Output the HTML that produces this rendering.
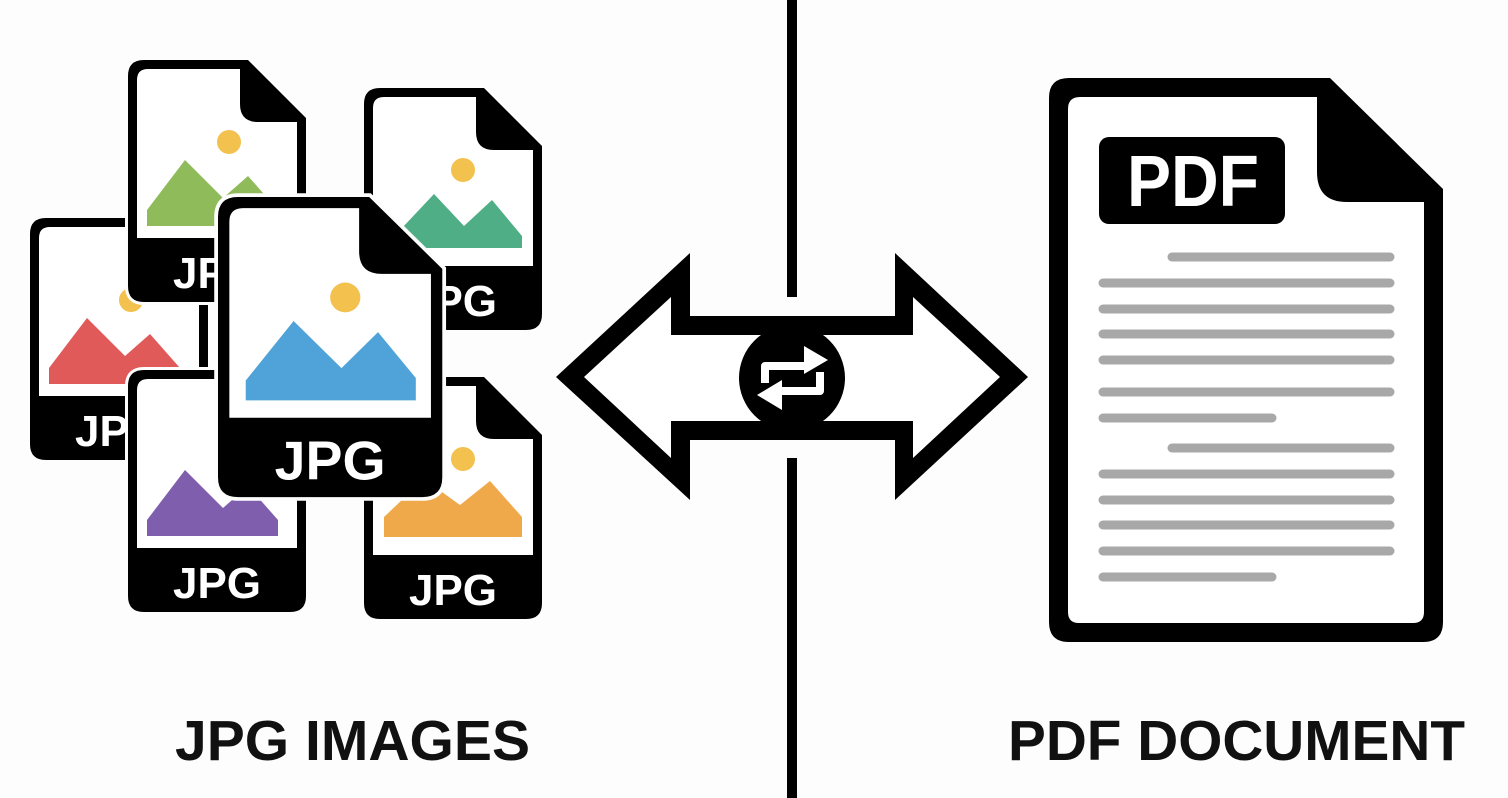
<!DOCTYPE html>
<html><head><meta charset="utf-8"><style>
html,body{margin:0;padding:0;background:#fdfdfd;}
svg{display:block;}
text{font-family:"Liberation Sans",Arial,sans-serif;font-weight:bold;}
</style></head><body>
<svg width="1508" height="798" viewBox="0 0 1508 798" xmlns="http://www.w3.org/2000/svg">
<defs>
<g id="file">
  <path d="M16,0 H120 L178,58 V226 Q178,242 162,242 H16 Q0,242 0,226 V16 Q0,0 16,0 Z" fill="#000" stroke="#fdfdfd" stroke-width="6" paint-order="stroke"/>
  <path d="M9,20 Q9,9 20,9 H112 V44 Q112,62 130,62 H169 V178 H9 Z" fill="#fff"/>
</g>
</defs>
<rect width="1508" height="798" fill="#fdfdfd"/>
<rect x="787" y="0" width="10" height="297" fill="#000"/>
<rect x="787" y="458" width="10" height="340" fill="#000"/>

<g transform="translate(30,218)">
  <use href="#file"/>
  <circle cx="101" cy="82" r="12" fill="#f2c14e"/>
  <path d="M19,166 V150 L57,100 L95,138 L120,116 L150,150 V166 Z" fill="#e05a5a"/>
  <text x="89" y="228" font-size="44" fill="#fff" text-anchor="middle">JPG</text>
</g>
<g transform="translate(128,60)">
  <use href="#file"/>
  <circle cx="101" cy="82" r="12" fill="#f2c14e"/>
  <path d="M19,166 V150 L57,100 L95,138 L120,116 L150,150 V166 Z" fill="#8fbb5a"/>
  <text x="89" y="228" font-size="44" fill="#fff" text-anchor="middle">JPG</text>
</g>
<g transform="translate(364,88)">
  <use href="#file"/>
  <circle cx="99" cy="82" r="12" fill="#f2c14e"/>
  <path d="M38,140 L70,106 L100,138 L128,112 L158,148 V160 H38 Z" fill="#4fae85"/>
  <text x="89" y="228" font-size="44" fill="#fff" text-anchor="middle">JPG</text>
</g>
<g transform="translate(128,370)">
  <use href="#file"/>
  <path d="M19,166 V150 L57,100 L95,138 L120,116 L150,150 V166 Z" fill="#7f5eae"/>
  <text x="89" y="228" font-size="44" fill="#fff" text-anchor="middle">JPG</text>
</g>
<g transform="translate(364,377)">
  <use href="#file"/>
  <circle cx="99" cy="82" r="12" fill="#f2c14e"/>
  <path d="M20,150 L20,140 L60,102 L96,128 L126,104 L158,140 V160 H20 Z" fill="#f0a94a"/>
  <text x="89" y="228" font-size="44" fill="#fff" text-anchor="middle">JPG</text>
</g>
<g transform="translate(218,197) scale(1.26,1.24)">
  <use href="#file"/>
  <circle cx="101" cy="81" r="12" fill="#f2c14e"/>
  <path d="M22,164 V148 L60,100 L98,138 L127,109 L157,146 V164 Z" fill="#4fa3d8"/>
  <text x="89" y="228" font-size="44" fill="#fff" text-anchor="middle">JPG</text>
</g>

<path d="M556,377 L690,253 V316 H895 V253 L1028,377 L895,500 V440 H690 V500 Z" fill="#000"/>
<path d="M584,377 L671,297 V335 H913 V297 L1000,377 L913,458 V421 H671 V458 Z" fill="#fff"/>
<circle cx="792" cy="378" r="53" fill="#000"/>
<g fill="none" stroke="#fff" stroke-width="8" stroke-linejoin="round">
  <path d="M765,383 V366 H808"/>
  <path d="M820,372 V391 H778"/>
</g>
<path d="M804,346 L828,360 L804,374 Z" fill="#fff"/>
<path d="M782,380 L757,395 L782,410 Z" fill="#fff"/>

<path d="M1070,78 H1330 L1443,189 V622 Q1443,642 1423,642 H1069 Q1049,642 1049,622 V98 Q1049,78 1069,78 Z" fill="#000"/>
<path d="M1080,97 H1317 V172 Q1317,202 1347,202 H1424 V612 Q1424,623 1413,623 H1079 Q1068,623 1068,612 V109 Q1068,97 1080,97 Z" fill="#fff"/>
<rect x="1099" y="137" width="186" height="87" rx="10" fill="#000"/>
<text x="1127" y="206" font-size="72" fill="#fff" textLength="132" lengthAdjust="spacingAndGlyphs">PDF</text>
<g stroke="#a8a8a8" stroke-width="9" stroke-linecap="round">
  <line x1="1172" y1="257" x2="1390" y2="257"/>
  <line x1="1103" y1="283" x2="1390" y2="283"/>
  <line x1="1103" y1="309" x2="1390" y2="309"/>
  <line x1="1103" y1="334" x2="1390" y2="334"/>
  <line x1="1103" y1="360" x2="1390" y2="360"/>
  <line x1="1103" y1="392" x2="1390" y2="392"/>
  <line x1="1103" y1="418" x2="1272" y2="418"/>
  <line x1="1172" y1="448" x2="1390" y2="448"/>
  <line x1="1103" y1="474" x2="1390" y2="474"/>
  <line x1="1103" y1="500" x2="1390" y2="500"/>
  <line x1="1103" y1="525" x2="1390" y2="525"/>
  <line x1="1103" y1="551" x2="1390" y2="551"/>
  <line x1="1103" y1="577" x2="1272" y2="577"/>
</g>

<text x="175" y="760" font-size="57" fill="#111" textLength="355" lengthAdjust="spacingAndGlyphs">JPG IMAGES</text>
<text x="1008" y="760" font-size="57" fill="#111" textLength="457" lengthAdjust="spacingAndGlyphs">PDF DOCUMENT</text>
</svg>
</body></html>
